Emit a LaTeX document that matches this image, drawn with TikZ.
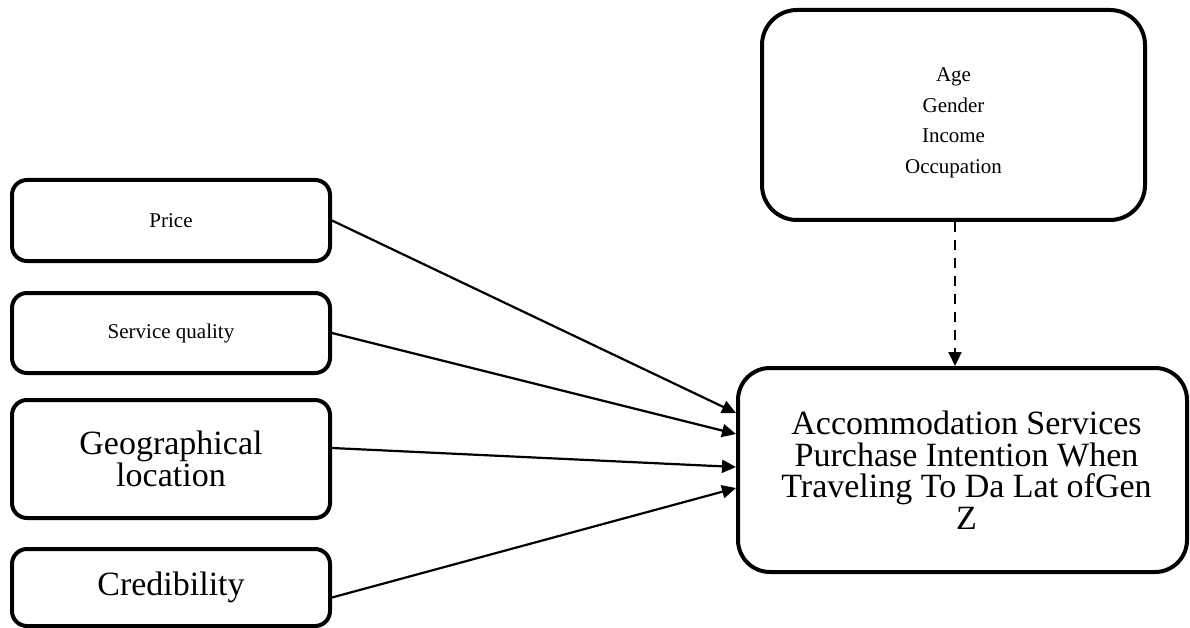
\documentclass[tikz,border=0pt]{standalone}
\usepackage{fontspec}
\setmainfont{Liberation Serif}
\usetikzlibrary{arrows.meta}
\tikzset{
  box/.style={draw=black, line width=4pt, rounded corners=15pt, fill=white, align=center, inner sep=0pt},
  small/.style={font=\fontsize{21}{30.5}\selectfont},
  big/.style={font=\fontsize{34}{31.5}\selectfont},
  link/.style={line width=2.2pt, -{Triangle[length=14pt,width=13pt]}},
}
\begin{document}
\begin{tikzpicture}[x=1pt,y=-1pt]
\useasboundingbox (0,0) rectangle (1190,628);
\node[box, small, minimum width=318pt, minimum height=81pt] (price) at (171,220.5) {Price};
\node[box, small, minimum width=318pt, minimum height=80pt] (serv) at (171,333) {Service quality};
\node[box, big, minimum width=318pt, minimum height=118pt] (geo) at (171,459) {Geographical\\location};
\node[box, big, minimum width=318pt, minimum height=77pt] (cred) at (171,587.5) {Credibility};
\node[box, small, rounded corners=35pt, minimum width=383pt, minimum height=210pt] (demo) at (953.5,115) {\rule{0pt}{29pt}Age\\Gender\\Income\\Occupation};
\node[box, big, rounded corners=32pt, minimum width=449pt, minimum height=204pt] (main) at (962.5,470) {\hspace*{8pt}Accommodation Services\\\hspace*{8pt}Purchase Intention When\\\hspace*{8pt}Traveling To Da Lat ofGen\\\hspace*{8pt}Z};
\draw[link] (price.east) -- ([yshift=57pt]main.west);
\draw[link] (serv.east) -- ([yshift=36pt]main.west);
\draw[link] ([yshift=11pt]geo.east) -- ([yshift=3pt]main.west);
\draw[link] ([yshift=-10pt]cred.east) -- ([yshift=-18pt]main.west);
\draw[link, dash pattern=on 10pt off 8pt] ([xshift=1.5pt]demo.south) -- ([xshift=1.5pt]demo.south |- main.north);
\end{tikzpicture}
\end{document}
